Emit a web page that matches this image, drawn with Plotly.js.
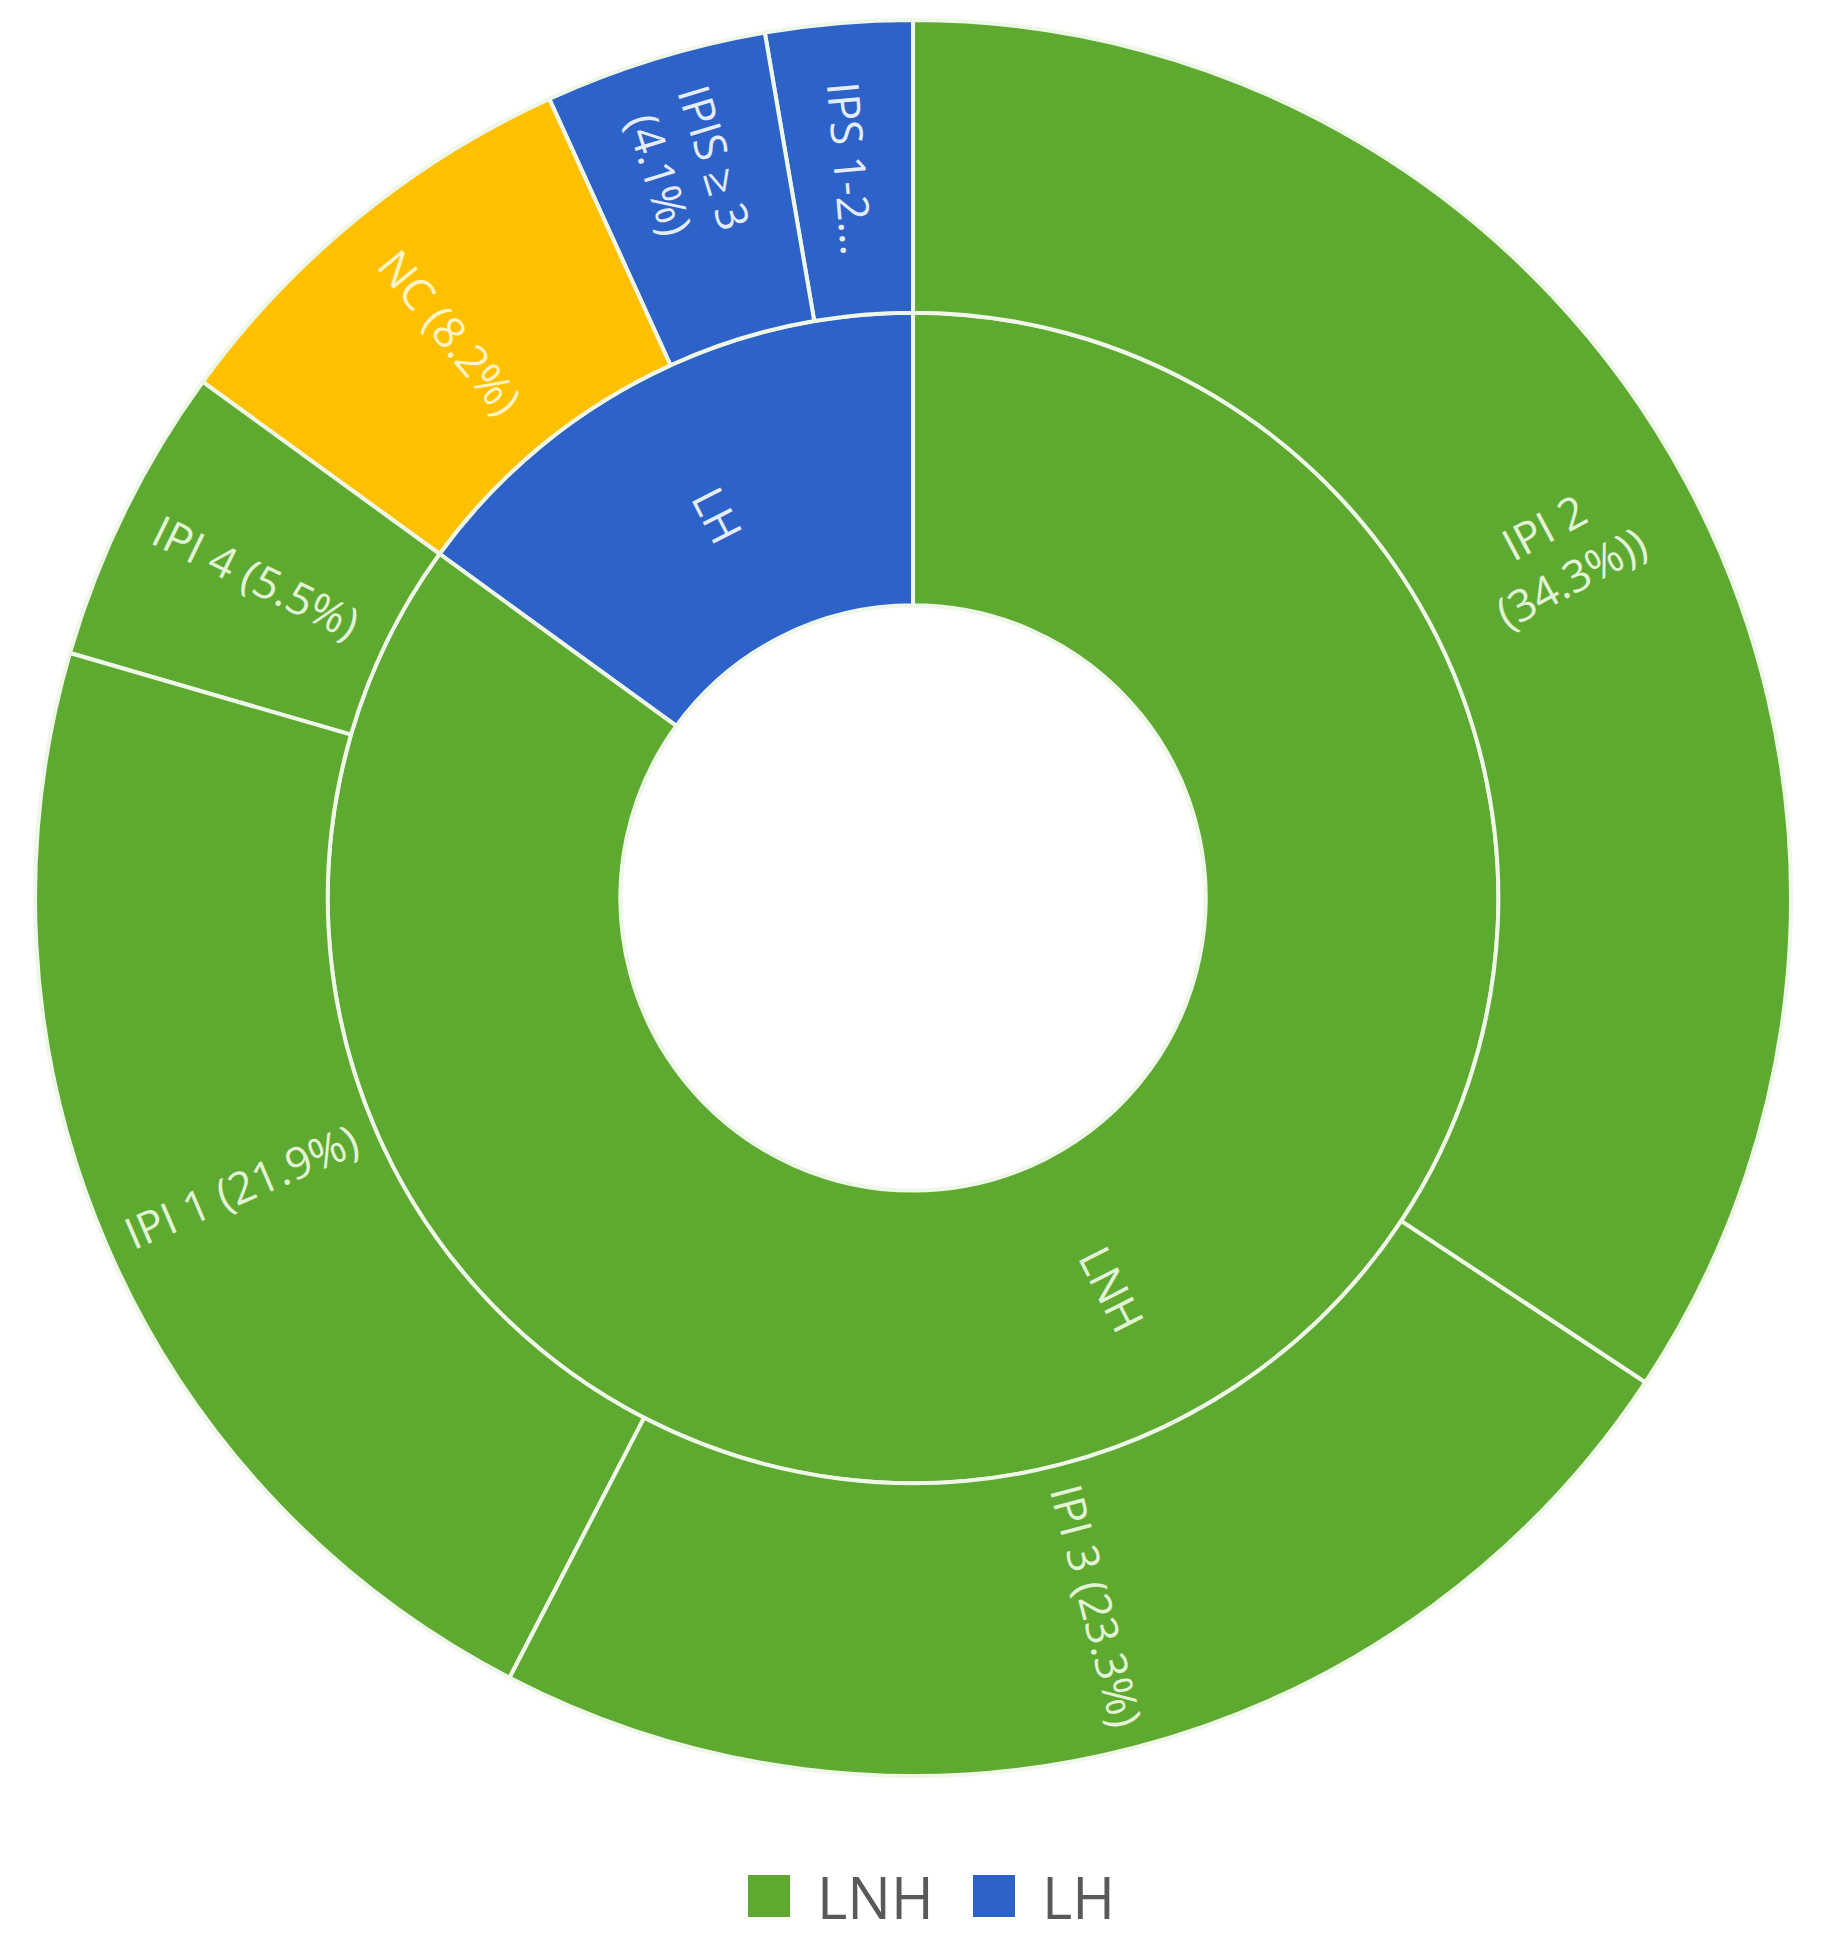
<!DOCTYPE html>
<html>
<head>
<meta charset="utf-8">
<script src="https://cdn.plot.ly/plotly-3.0.1.min.js"></script>
<style>html,body{margin:0;padding:0;background:#fff;}#chart{width:1834px;height:1939px;}</style>
</head>
<body>
<div id="chart"></div>
<script>
// Inner ring (categories) and outer ring (sub-groups), listed clockwise from 12 o'clock
const categories = ['LNH', 'LH'];
const subLabels = ['IPI 2<br>(34.3%))', 'IPI 3 (23.3%)', 'IPI 1 (21.9%)', 'IPI 4 (5.5%)', 'NC (8.2%)', 'IPIS ≥ 3<br>(4.1%)', 'IPS 1-2...'];
const subValues = [34.3, 23.3, 21.9, 5.5, 8.2, 4.1, 2.7];
const subParents = ['LNH', 'LNH', 'LNH', 'LNH', 'LH', 'LH', 'LH'];
const legendLabels = ['LNH', 'LH'];

const catColors = {LNH: '#5EA930', LH: '#2D63C8'};
const subColors = ['#5EA930', '#5EA930', '#5EA930', '#5EA930', '#FFC000', '#2D63C8', '#2D63C8'];
const FONT = 'Open Sans, Noto Sans, sans-serif';

const W = 1834, H = 1939;
const domX = [0.0191, 0.9766], domY = [0.0841, 0.9897];
const cx = (domX[0] + domX[1]) / 2 * W;
const cy = (1 - (domY[0] + domY[1]) / 2) * H;
const R = Math.min((domX[1] - domX[0]) * W, (domY[1] - domY[0]) * H) / 2;

function txtColor(c) {
  if (c === '#FFC000') return '#FFF4C8';
  if (c === '#2D63C8') return '#E4ECFA';
  return '#E2F3D6';
}

// angular spans (clockwise from top, degrees), derived from the values
const total = subValues.reduce((a, b) => a + b, 0);
const catValues = categories.map(c => subValues.reduce((s, v, i) => s + (subParents[i] === c ? v : 0), 0));
function spans(vals) {
  let acc = 0;
  return vals.map(v => { const s = acc; acc += v; return [s / total * 360, acc / total * 360]; });
}
const subSpans = spans(subValues), catSpans = spans(catValues);
// Plotly moves radial labels of sectors crossing 3 or 9 o'clock; place those at the sector middle instead
function crosses(sp) { return [90, 270].some(a => sp[0] < a && a < sp[1]); }

const annotations = [];
function addLabel(text, sp, rFrac, color) {
  const th = (sp[0] + sp[1]) / 2;
  const rad = th * Math.PI / 180;
  const px = cx + rFrac * R * Math.sin(rad);
  const py = cy - rFrac * R * Math.cos(rad);
  const ang = th < 180 ? th - 90 : th - 270;
  annotations.push({
    text: text, xref: 'paper', yref: 'paper', showarrow: false,
    x: px / W, y: 1 - py / H, xanchor: 'center', yanchor: 'middle',
    textangle: ang, font: {family: FONT, size: 44, color: color}
  });
}

// Plotly sunburst lays sectors counterclockwise, so feed them in reverse order
const ids = ['root'], labels = [''], parents = [''], values = [0], colors = ['#FFFFFF'], texts = [''];
for (let k = categories.length - 1; k >= 0; k--) {
  const c = categories[k];
  ids.push(c); labels.push(c); parents.push('root'); values.push(0); colors.push(catColors[c]);
  if (crosses(catSpans[k])) { texts.push(''); addLabel(c, catSpans[k], 0.5, txtColor(catColors[c])); }
  else texts.push(c);
}
for (let i = subLabels.length - 1; i >= 0; i--) {
  ids.push('s' + i); labels.push(subLabels[i]); parents.push(subParents[i]);
  values.push(subValues[i]); colors.push(subColors[i]);
  if (crosses(subSpans[i])) { texts.push(''); addLabel(subLabels[i], subSpans[i], 5 / 6, txtColor(subColors[i])); }
  else texts.push(subLabels[i]);
}

const textColors = colors.map((c, i) => i === 0 ? 'rgba(0,0,0,0)' : txtColor(c));

const trace = {
  type: 'sunburst',
  ids: ids, labels: labels, parents: parents, values: values,
  text: texts,
  textinfo: 'text',
  branchvalues: 'remainder',
  sort: false,
  rotation: 90,
  insidetextorientation: 'radial',
  insidetextfont: {family: FONT, size: 44, color: textColors},
  marker: {colors: colors, line: {color: '#EEF7E8', width: 4}},
  leaf: {opacity: 1},
  hoverinfo: 'none',
  domain: {x: domX, y: domY}
};

const legColors = legendLabels.map(l => catColors[l]);
const legX = [769, 994];
const shapes = legendLabels.map((l, i) => ({
  type: 'rect', xref: 'paper', yref: 'paper',
  x0: (legX[i] - 21) / W, x1: (legX[i] + 21) / W,
  y0: (H - 1917) / H, y1: (H - 1875) / H,
  fillcolor: legColors[i], line: {width: 0}
}));
legendLabels.forEach((l, i) => annotations.push({
  text: l, xref: 'paper', yref: 'paper', showarrow: false,
  x: (legX[i] + 46) / W, y: (H - 1896) / H, xanchor: 'left', yanchor: 'middle',
  font: {family: FONT, size: 58, color: '#595959'}
}));

const layout = {
  width: W, height: H,
  margin: {l: 0, r: 0, t: 0, b: 0},
  paper_bgcolor: '#FFFFFF',
  showlegend: false,
  shapes: shapes,
  annotations: annotations
};

Plotly.newPlot('chart', [trace], layout, {displayModeBar: false, staticPlot: true});
</script>
</body>
</html>
